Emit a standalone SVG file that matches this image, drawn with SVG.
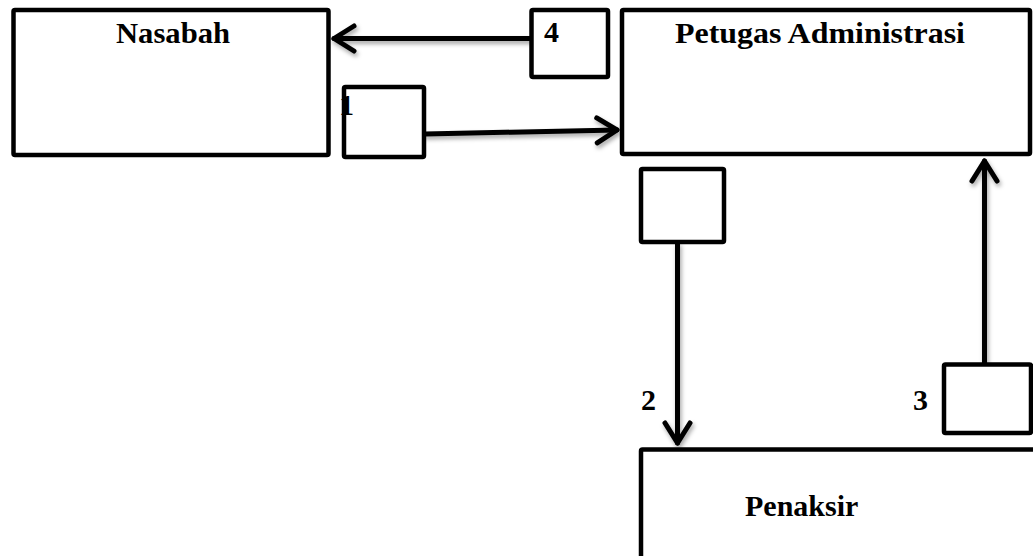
<svg xmlns="http://www.w3.org/2000/svg" width="1033" height="556" viewBox="0 0 1033 556">
  <style>
    .box { fill: #ffffff; stroke: #000000; stroke-width: 4.5; stroke-linejoin: round; }
    .lbl { font-family: "Liberation Serif", "Times New Roman", serif; font-weight: bold; font-size: 30px; fill: #000000; }
    .conn { fill: none; stroke: #000000; stroke-width: 5; stroke-linecap: round; filter: url(#shadow); }
  </style>
  <defs>
    <filter id="shadow" filterUnits="userSpaceOnUse" x="0" y="0" width="1033" height="556">
      <feDropShadow dx="1.5" dy="3" stdDeviation="2" flood-color="#000000" flood-opacity="0.35"/>
    </filter>
    <marker id="chev" markerUnits="userSpaceOnUse" viewBox="-26 -18 30 36" markerWidth="30" markerHeight="36" refX="0" refY="0" orient="auto" overflow="visible">
      <path d="M -20 -12.5 L 0 0 L -20 12.5" fill="none" stroke="#000000" stroke-width="5" stroke-linecap="round" stroke-linejoin="round"/>
    </marker>
  </defs>

  <g id="connectors">
    <path class="conn" d="M 531 38.5 L 334 38.5" stroke-width="6" marker-end="url(#chev)"/>
    <path class="conn" d="M 425 134 L 617 130" marker-end="url(#chev)"/>
    <path class="conn" d="M 677.5 244 L 677.5 443" stroke-width="4.5" marker-end="url(#chev)"/>
    <path class="conn" d="M 984.5 364 L 984.5 161" stroke-width="4.5" marker-end="url(#chev)"/>
  </g>

  <g id="nasabah">
    <rect class="box" x="13.5" y="10" width="315" height="145" rx="1.5"/>
    <text class="lbl" x="116" y="43" textLength="114" lengthAdjust="spacingAndGlyphs">Nasabah</text>
  </g>

  <g id="petugas-administrasi">
    <rect class="box" x="622" y="10" width="408" height="144" rx="1.5"/>
    <text class="lbl" x="675" y="43" textLength="290" lengthAdjust="spacingAndGlyphs">Petugas Administrasi</text>
  </g>

  <g id="penaksir">
    <rect class="box" x="641" y="449.5" width="420" height="140" rx="1.5"/>
    <text class="lbl" x="745" y="516">Penaksir</text>
  </g>

  <g id="flow-4">
    <rect class="box" x="531.5" y="10" width="76.5" height="67" rx="1.5"/>
    <text class="lbl" x="544" y="42">4</text>
  </g>

  <g id="flow-1">
    <rect class="box" x="344" y="87" width="80" height="70" rx="1.5"/>
    <text class="lbl" x="339" y="115">1</text>
  </g>

  <g id="flow-2">
    <rect class="box" x="641" y="169" width="83" height="73" rx="1.5"/>
    <text class="lbl" x="641" y="410">2</text>
  </g>

  <g id="flow-3">
    <rect class="box" x="944" y="364.5" width="87" height="68.5" rx="1.5"/>
    <text class="lbl" x="913" y="410">3</text>
  </g>
</svg>
